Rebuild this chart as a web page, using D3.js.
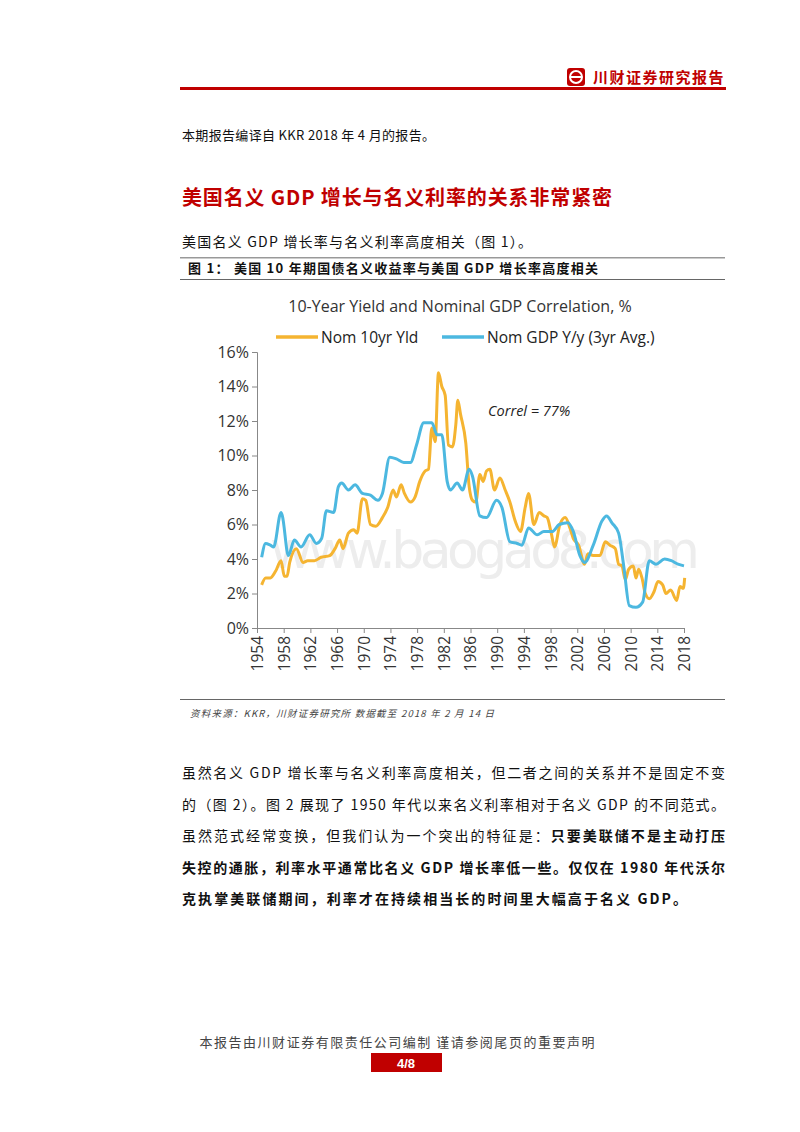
<!DOCTYPE html>
<html><head><meta charset="utf-8">
<script src="https://cdn.jsdelivr.net/npm/d3@7"></script>
<style>body{margin:0;background:#fff}</style>
</head><body><div id="page"></div>
<script>
// Nom 10yr Yld [year, %]
const yieldData = [[1954.7,2.5],[1955.3,2.9],[1956.0,2.9],[1956.8,3.3],[1957.6,3.9],[1958.1,3.0],[1958.5,3.0],[1958.9,3.8],[1959.9,4.6],[1960.9,3.8],[1961.6,3.9],[1962.6,3.9],[1963.6,4.1],[1964.9,4.2],[1965.7,4.6],[1966.4,5.1],[1966.9,4.6],[1967.7,5.5],[1968.5,5.7],[1969.0,5.5],[1969.8,7.5],[1970.3,7.4],[1971.0,6.0],[1971.8,5.9],[1972.8,6.4],[1973.6,7.0],[1974.4,8.0],[1974.9,7.6],[1975.6,8.3],[1976.1,7.8],[1977.0,7.3],[1977.7,7.6],[1978.4,8.5],[1979.2,9.1],[1979.7,9.2],[1980.2,11.6],[1980.7,10.8],[1981.2,14.8],[1981.7,14.0],[1982.2,13.5],[1982.7,10.6],[1983.3,10.5],[1983.8,11.8],[1984.1,13.2],[1984.5,12.4],[1985.3,10.7],[1985.8,8.2],[1986.3,7.4],[1986.8,7.3],[1987.4,8.9],[1987.9,8.5],[1988.4,9.1],[1988.9,9.2],[1989.6,8.0],[1990.4,8.7],[1991.2,8.0],[1991.9,7.3],[1992.7,6.2],[1993.5,5.6],[1994.2,7.0],[1994.7,7.8],[1995.5,6.0],[1996.3,6.7],[1997.0,6.5],[1997.5,6.4],[1998.1,5.5],[1998.6,4.7],[1999.4,6.0],[2000.2,6.4],[2000.9,5.8],[2001.4,5.2],[2002.2,4.8],[2003.1,3.7],[2003.6,4.3],[2004.4,4.2],[2005.4,4.2],[2006.2,5.0],[2006.9,4.8],[2007.7,4.6],[2008.2,3.7],[2008.7,3.6],[2009.2,2.8],[2009.7,3.4],[2010.4,3.6],[2010.8,2.9],[2011.2,3.4],[2011.7,2.9],[2012.2,2.0],[2012.8,1.7],[2013.5,2.1],[2014.1,2.7],[2014.8,2.5],[2015.3,2.0],[2016.0,2.2],[2016.9,1.6],[2017.4,2.4],[2017.9,2.3],[2018.1,2.9]];
// Nom GDP Y/y (3yr Avg.) [year, %]
const gdpData = [[1954.7,4.1],[1955.3,4.9],[1956.0,4.8],[1956.5,4.7],[1957.6,6.7],[1957.8,6.5],[1958.7,4.2],[1959.6,5.1],[1960.6,4.7],[1961.9,5.4],[1962.9,4.9],[1963.7,5.2],[1964.4,6.8],[1965.5,6.7],[1966.2,8.2],[1966.7,8.4],[1967.7,8.0],[1968.7,8.3],[1969.8,7.8],[1971.0,7.7],[1972.1,7.4],[1972.8,7.8],[1973.9,9.9],[1974.9,9.8],[1976.0,9.6],[1977.0,9.6],[1977.9,10.6],[1979.0,11.9],[1980.2,11.9],[1981.0,11.2],[1981.7,11.2],[1982.5,8.5],[1983.0,8.0],[1984.0,8.4],[1984.8,8.0],[1985.8,9.2],[1986.3,8.8],[1987.4,6.5],[1988.4,6.4],[1989.9,7.4],[1990.7,7.0],[1991.9,5.0],[1993.0,4.9],[1993.7,4.8],[1994.7,5.8],[1996.0,5.4],[1997.0,5.6],[1998.3,5.6],[1999.3,6.0],[2000.6,6.1],[2001.4,5.6],[2002.4,4.2],[2003.1,3.8],[2004.4,4.8],[2005.7,6.2],[2006.4,6.5],[2007.2,6.1],[2008.2,5.5],[2009.0,3.5],[2009.8,1.3],[2010.8,1.2],[2011.8,1.5],[2012.8,3.9],[2013.8,3.7],[2015.1,4.0],[2016.1,3.9],[2017.1,3.7],[2018.0,3.6]];
const yearTicks = [1954,1958,1962,1966,1970,1974,1978,1982,1986,1990,1994,1998,2002,2006,2010,2014,2018];
const pctTicks = [0,2,4,6,8,10,12,14,16];
const seriesNames = ["Nom 10yr Yld","Nom GDP Y/y (3yr Avg.)"];
const seriesColors = ["#f5b431","#4cb8e0"];

const red = "#c00000";
const cn = "'Noto Sans CJK SC', sans-serif";
const svg = d3.select("#page").append("svg").attr("width", 800).attr("height", 1132);

// page header
svg.append("rect").attr("x", 567).attr("y", 68).attr("width", 18).attr("height", 18).attr("rx", 3).attr("fill", red);
svg.append("circle").attr("cx", 576).attr("cy", 77).attr("r", 6).attr("fill", "none").attr("stroke", "#fff").attr("stroke-width", 2);
svg.append("rect").attr("x", 570).attr("y", 76).attr("width", 12).attr("height", 2).attr("fill", "#fff");
svg.append("text").attr("x", 725).attr("y", 83).attr("text-anchor", "end").attr("font-family", cn)
  .attr("font-size", 15).attr("font-weight", "bold").attr("fill", red).attr("letter-spacing", 1.5).text("川财证券研究报告");
svg.append("rect").attr("x", 180).attr("y", 87).attr("width", 546).attr("height", 3).attr("fill", red);

const txt = (x, y, s, size, opts = {}) => svg.append("text").attr("x", x).attr("y", y)
  .attr("font-family", opts.font || cn).attr("font-size", size)
  .attr("font-weight", opts.bold ? "bold" : "normal").attr("fill", opts.fill || "#111")
  .attr("text-anchor", opts.anchor || "start").attr("font-style", opts.italic ? "italic" : "normal")
  .attr("textLength", opts.len || null).text(s);

txt(182, 140, "本期报告编译自 KKR 2018 年 4 月的报告。", 13, {len: 253});
txt(182, 205, "美国名义 GDP 增长与名义利率的关系非常紧密", 20, {bold: true, fill: red, len: 430});
txt(182, 247, "美国名义 GDP 增长率与名义利率高度相关（图 1）。", 14, {len: 350});
svg.append("rect").attr("x", 180).attr("y", 257).attr("width", 545).attr("height", 1.5).attr("fill", "#999");
txt(188, 273, "图 1：  美国 10 年期国债名义收益率与美国 GDP 增长率高度相关", 13, {bold: true, len: 410});
svg.append("rect").attr("x", 180).attr("y", 279).attr("width", 545).attr("height", 1).attr("fill", "#666");
svg.append("rect").attr("x", 180).attr("y", 699).attr("width", 545).attr("height", 1).attr("fill", "#666");
txt(190, 717, "资料来源：KKR，川财证券研究所   数据截至 2018 年 2 月 14 日", 9.5, {italic: true, fill: "#444", len: 304});

// chart
const x = d3.scaleLinear().domain([1954, 2018]).range([257, 684]);
const y = d3.scaleLinear().domain([0, 16]).range([628, 352]);
const lab = "'Open Sans', 'DejaVu Sans', sans-serif";

// watermark (behind)
svg.append("text").attr("x", 270).attr("y", 568).attr("font-family", "'DejaVu Sans', sans-serif")
  .attr("font-size", 52).attr("fill", "#d8d8d8").attr("opacity", 0.45).attr("textLength", 430).text("www.baogao8.com");

svg.append("text").attr("x", 460).attr("y", 312).attr("text-anchor", "middle").attr("font-family", lab)
  .attr("font-size", 16).attr("fill", "#333").text("10-Year Yield and Nominal GDP Correlation, %");

const lg = svg.append("g");
[[276, 0], [442, 1]].forEach(([lx, i]) => {
  lg.append("line").attr("x1", lx).attr("x2", lx + 42).attr("y1", 337).attr("y2", 337)
    .attr("stroke", seriesColors[i]).attr("stroke-width", 3.5);
  lg.append("text").attr("x", lx + 45).attr("y", 343).attr("font-family", lab).attr("font-size", 15.5)
    .attr("fill", "#222").text(seriesNames[i]);
});

const yAxis = svg.append("g").attr("transform", "translate(257,0)")
  .call(d3.axisLeft(y).tickValues(pctTicks).tickFormat(d => d + "%").tickSize(5));
yAxis.selectAll("text").attr("font-family", lab).attr("font-size", 16).attr("fill", "#333").attr("x", -8);
const xAxis = svg.append("g").attr("transform", "translate(0,628)")
  .call(d3.axisBottom(x).tickValues(yearTicks).tickFormat(d3.format("d")).tickSize(5));
xAxis.selectAll("text").attr("font-family", lab).attr("font-size", 15.5).attr("fill", "#333")
  .attr("transform", "rotate(-90)").attr("text-anchor", "end").attr("x", -8).attr("y", 0).attr("dy", "0.35em");
svg.selectAll(".domain, .tick line").attr("stroke", "#888");

const line = d3.line().x(d => x(d[0])).y(d => y(d[1])).curve(d3.curveMonotoneX);
svg.append("path").datum(yieldData).attr("d", line).attr("fill", "none")
  .attr("stroke", seriesColors[0]).attr("stroke-width", 3);
svg.append("path").datum(gdpData).attr("d", line).attr("fill", "none")
  .attr("stroke", seriesColors[1]).attr("stroke-width", 3);

svg.append("text").attr("x", 488).attr("y", 416).attr("font-family", lab).attr("font-style", "italic")
  .attr("font-size", 14.5).attr("fill", "#222").text("Correl = 77%");

// body text
const lines = [
  [{t: "虽然名义 GDP 增长率与名义利率高度相关，但二者之间的关系并不是固定不变"}],
  [{t: "的（图 2）。图 2 展现了 1950 年代以来名义利率相对于名义 GDP 的不同范式。"}],
  [{t: "虽然范式经常变换，但我们认为一个突出的特征是："}, {t: "只要美联储不是主动打压", b: 1}],
  [{t: "失控的通胀，利率水平通常比名义 GDP 增长率低一些。仅仅在 1980 年代沃尔", b: 1}],
  [{t: "克执掌美联储期间，利率才在持续相当长的时间里大幅高于名义 GDP。", b: 1}]
];
lines.forEach((l, i) => {
  const t = svg.append("text").attr("x", 182).attr("y", 778 + i * 31.5).attr("font-family", cn)
    .attr("font-size", 14).attr("fill", "#111").attr("textLength", i === 4 ? 505 : 543);
  l.forEach(s => t.append("tspan").attr("font-weight", s.b ? "bold" : "normal").text(s.t));
});

// footer
txt(397, 1047, "本报告由川财证券有限责任公司编制 谨请参阅尾页的重要声明", 13, {anchor: "middle", fill: "#444", len: 395});
svg.append("rect").attr("x", 371).attr("y", 1053).attr("width", 71).attr("height", 19).attr("fill", red);
txt(406, 1068, "4/8", 13, {anchor: "middle", fill: "#fff", bold: true, font: "'Liberation Sans', sans-serif"});
</script></body></html>
